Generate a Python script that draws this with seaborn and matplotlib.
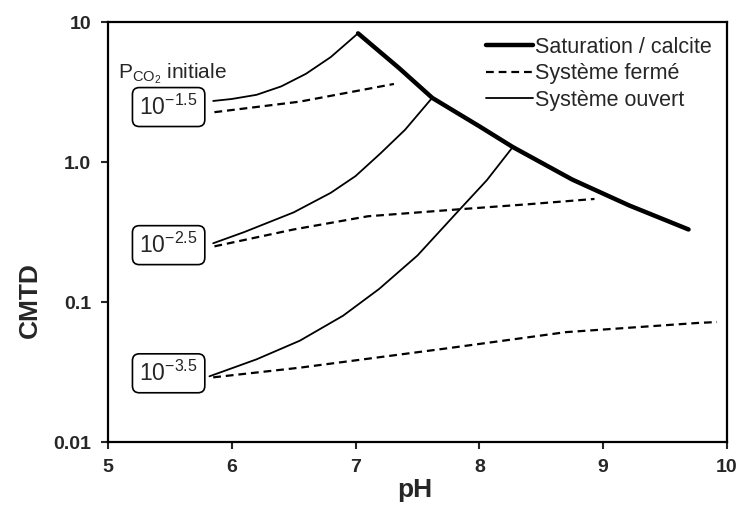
import matplotlib
matplotlib.use("Agg")
import matplotlib.pyplot as plt
import seaborn as sns

# data (pH, CMTD)
sat_ph = [7.02, 7.35, 7.62, 8.0, 8.27, 8.75, 9.21, 9.69]
sat_cmtd = [8.3, 4.7, 2.87, 1.8, 1.28, 0.75, 0.49, 0.33]

open15_ph = [5.85, 6.0, 6.2, 6.4, 6.6, 6.8, 7.02]
open15_cmtd = [2.73, 2.82, 3.02, 3.47, 4.27, 5.62, 8.3]
closed15_ph = [5.86, 6.55, 7.31]
closed15_cmtd = [2.27, 2.7, 3.61]

open25_ph = [5.85, 6.1, 6.5, 6.8, 7.0, 7.2, 7.4, 7.62]
open25_cmtd = [0.263, 0.316, 0.437, 0.603, 0.794, 1.15, 1.70, 2.88]
closed25_ph = [5.86, 6.5, 7.1, 7.84, 8.4, 8.93]
closed25_cmtd = [0.25, 0.33, 0.41, 0.46, 0.5, 0.545]

open35_ph = [5.82, 6.2, 6.55, 6.9, 7.19, 7.5, 7.84, 8.06, 8.27]
open35_cmtd = [0.0295, 0.039, 0.053, 0.08, 0.124, 0.215, 0.457, 0.741, 1.28]
closed35_ph = [5.85, 6.55, 7.76, 8.70, 9.77, 9.92]
closed35_cmtd = [0.029, 0.034, 0.047, 0.061, 0.071, 0.072]

start_labels = ["10$^{-1.5}$", "10$^{-2.5}$", "10$^{-3.5}$"]
start_cmtd = [2.47, 0.255, 0.031]

xticks = [5, 6, 7, 8, 9, 10]
yticks = [0.01, 0.1, 1.0, 10]
ytick_labels = ["0.01", "0.1", "1.0", "10"]

sns.set_style("ticks")
plt.rcParams["font.family"] = ["Liberation Sans", "DejaVu Sans"]
plt.rcParams["mathtext.fontset"] = "custom"
plt.rcParams["mathtext.rm"] = "Liberation Sans"
plt.rcParams["mathtext.it"] = "Liberation Sans:italic"
plt.rcParams["mathtext.bf"] = "Liberation Sans:bold"

fig = plt.figure(figsize=(7.38, 5.07), dpi=100)
ax = fig.add_axes([0.1463, 0.128, 0.8387, 0.8286])

dashed = (0, (3.5, 2.2))
thin = dict(color="black", lw=1.3, estimator=None, sort=False)
dash = dict(color="black", lw=1.6, estimator=None, sort=False)

sns.lineplot(x=sat_ph, y=sat_cmtd, ax=ax, color="black", lw=3.2,
             estimator=None, sort=False, label="Saturation / calcite")
sns.lineplot(x=closed15_ph, y=closed15_cmtd, ax=ax, label="Système fermé",
             linestyle=dashed, **dash)
sns.lineplot(x=open15_ph, y=open15_cmtd, ax=ax, label="Système ouvert", **thin)
sns.lineplot(x=closed25_ph, y=closed25_cmtd, ax=ax, linestyle=dashed, **dash)
sns.lineplot(x=open25_ph, y=open25_cmtd, ax=ax, **thin)
sns.lineplot(x=closed35_ph, y=closed35_cmtd, ax=ax, linestyle=dashed, **dash)
sns.lineplot(x=open35_ph, y=open35_cmtd, ax=ax, **thin)

ax.set_yscale("log")
ax.set_xlim(5, 10)
ax.set_ylim(0.01, 10)
ax.set_xticks(xticks)
ax.set_xticklabels([str(t) for t in xticks])
ax.set_yticks(yticks)
ax.set_yticklabels(ytick_labels)
ax.minorticks_off()
ax.tick_params(direction="out", length=5, width=1.5, labelsize=14, pad=7)
for lab in ax.get_xticklabels() + ax.get_yticklabels():
    lab.set_fontweight("bold")
for sp in ax.spines.values():
    sp.set_linewidth(1.6)
    sp.set_color("black")

ax.set_xlabel("pH", fontsize=19, fontweight="bold")
ax.xaxis.set_label_coords(0.495, -0.086)
ax.set_ylabel("CMTD", fontsize=19, fontweight="bold")
ax.yaxis.set_label_coords(-0.106, 0.338)

for lab, yv in zip(start_labels, start_cmtd):
    ax.text(5.49, yv, lab, fontsize=16.5, ha="center", va="center",
            bbox=dict(boxstyle="round,pad=0.3", facecolor="white",
                      edgecolor="black", linewidth=1.2))
ax.text(5.08, 4.3, "P$_{\\mathrm{CO_2}}$ initiale", fontsize=15,
        ha="left", va="center")

ax.legend(loc="upper right", bbox_to_anchor=(0.99, 0.985), frameon=False,
          fontsize=15.5, handlelength=2.2, handletextpad=0.1,
          labelspacing=0.25, borderaxespad=0)

fig.savefig("out.png", dpi=100)
